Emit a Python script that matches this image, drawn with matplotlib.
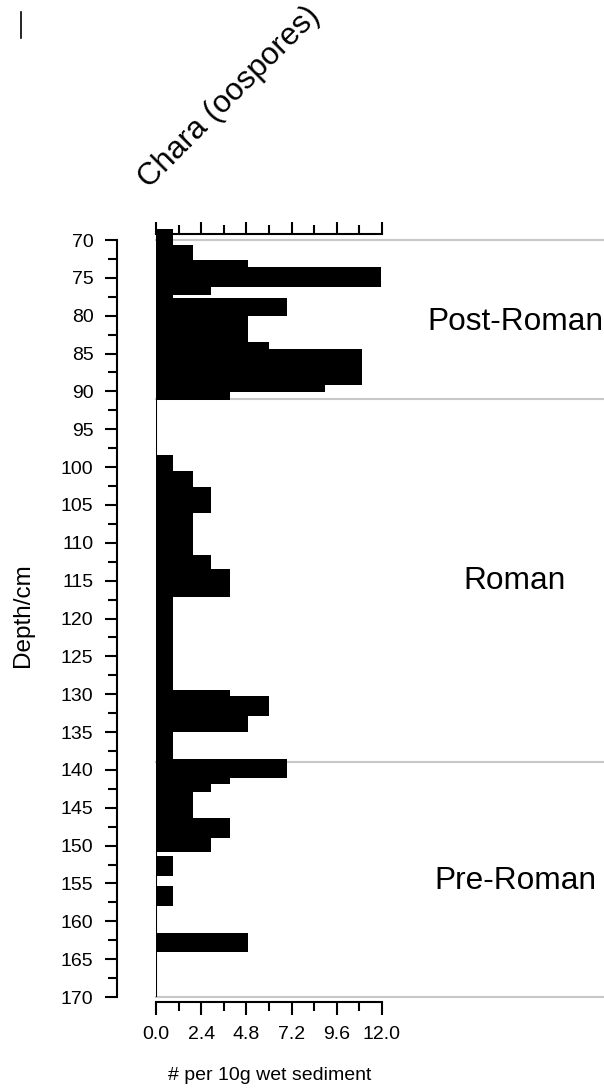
import matplotlib
matplotlib.use('Agg')
import matplotlib.pyplot as plt
import matplotlib.transforms as mtransforms
from matplotlib.lines import Line2D
from matplotlib.ticker import MultipleLocator, FormatStrFormatter
import numpy as np

plt.rcParams['font.family'] = ['Liberation Sans', 'DejaVu Sans']

# Chara oospore counts, one bar per sampled depth interval (cm)
depth_top = [68.6, 70.7, 72.6, 73.6, 76.2, 77.3, 77.6, 80.1, 83.5, 84.4,
             89.1, 90.1, 98.4, 100.5, 102.6, 106.0, 111.6, 113.4, 117.1,
             129.5, 130.3, 132.9, 135.0, 138.5, 141.1, 141.9, 142.9,
             146.4, 149.0, 151.4, 155.4, 161.5]
depth_bot = [70.7, 72.6, 73.6, 76.2, 77.3, 77.6, 80.1, 83.5, 84.4, 89.1,
             90.1, 91.1, 100.5, 102.6, 106.0, 111.6, 113.4, 117.1, 129.5,
             130.3, 132.9, 135.0, 138.5, 141.1, 141.9, 142.9, 146.4,
             149.0, 150.8, 154.0, 158.0, 164.0]
counts = [0.9, 1.95, 4.9, 11.95, 2.9, 0.9, 6.95, 4.9, 6.0, 10.95,
          8.95, 3.95, 0.9, 1.95, 2.9, 1.95, 2.9, 3.95, 0.9,
          3.95, 6.0, 4.9, 0.9, 6.95, 3.95, 2.9, 1.95,
          3.95, 2.9, 0.9, 0.9, 4.9]

zone_bounds = [70, 91, 139, 170]
zone_names = ['Post-Roman', 'Roman', 'Pre-Roman']
zone_label_depth = [80.8, 115.1, 154.7]

W, H = 604, 1088
fig = plt.figure(figsize=(W / 100, H / 100), dpi=100)
ax = fig.add_axes([156 / W, 1 - 997 / H, 226 / W, 757 / H])

top = np.array(depth_top)
bot = np.array(depth_bot)
ax.barh((top + bot) / 2, counts, height=bot - top, align='center',
        color='black', linewidth=0, zorder=3, clip_on=False)
ax.axvline(0, color='black', lw=1.5, zorder=4)

# zone boundaries running out to the right edge
trans = mtransforms.blended_transform_factory(ax.transAxes, ax.transData)
for d in zone_bounds:
    ax.plot([0, (W - 156) / 226], [d, d], color='#c8c8c8', lw=1.5,
            transform=trans, clip_on=False, zorder=1)
for name, d in zip(zone_names, zone_label_depth):
    ax.text((515 - 156) / 226, d, name, transform=trans, fontsize=22.8,
            ha='center', va='center')

ax.set_xlim(0, 12)
ax.set_ylim(170, 70)

ax.spines['right'].set_visible(False)
ax.spines['left'].set_position(('outward', 39 * 0.72))
ax.spines['top'].set_position(('outward', 6 * 0.72))
ax.spines['bottom'].set_position(('outward', 5 * 0.72))
for s in ['left', 'top', 'bottom']:
    ax.spines[s].set_linewidth(1.5)

ax.xaxis.set_major_locator(MultipleLocator(2.4))
ax.xaxis.set_minor_locator(MultipleLocator(1.2))
ax.xaxis.set_major_formatter(FormatStrFormatter('%.1f'))
ax.yaxis.set_major_locator(MultipleLocator(5))
ax.yaxis.set_minor_locator(MultipleLocator(2.5))

ax.tick_params(axis='x', which='both', top=True, bottom=True,
               labeltop=False, labelbottom=True, direction='out',
               width=1.5, labelsize=14, pad=8)
ax.tick_params(axis='both', which='major', length=9)
ax.tick_params(axis='both', which='minor', length=6.5, width=1.5)
ax.tick_params(axis='y', which='both', direction='out', width=1.5,
               labelsize=14, pad=8)

fig.text(23 / W, 1 - 615 / H, 'Depth/cm', rotation=90, fontsize=17.5,
         ha='center', va='center')
fig.text(270 / W, 1 - 1076 / H, '# per 10g wet sediment', fontsize=14,
         ha='center', va='center')
fig.text(133 / W, 1 - 194 / H, 'Chara (oospores)', rotation=45,
         fontsize=22.5, ha='left', va='bottom')
fig.add_artist(Line2D([21 / W, 21 / W], [1 - 12 / H, 1 - 38 / H],
                      color='black', lw=1.2))

fig.savefig('out.png', dpi=100)
plt.close()
